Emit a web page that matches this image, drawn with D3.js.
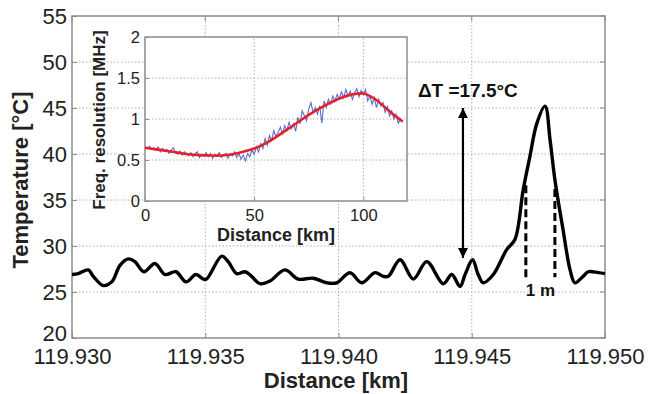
<!DOCTYPE html>
<html>
<head>
<meta charset="utf-8">
<title>Temperature vs distance</title>
<script src="https://d3js.org/d3.v7.min.js"></script>
<style>
  body { margin: 0; background: #fff; }
  svg { display: block; font-family: "Liberation Sans", Arial, sans-serif; }
  .tick text { fill: #222; }
  .grid line { stroke: #b0b0b0; stroke-width: 1; stroke-dasharray: 1.5,2; }
</style>
</head>
<body>
<svg id="chart" width="650" height="394"></svg>
<script>
// main trace
var mainDist = [119.93000, 119.93024, 119.93061, 119.93080, 119.93117, 119.93149, 119.93180, 119.93211,
  119.93236, 119.93270, 119.93311, 119.93349, 119.93390, 119.93428, 119.93465, 119.93493, 119.93505,
  119.93562, 119.93586, 119.93618, 119.93649, 119.93674, 119.93705, 119.93743, 119.93799, 119.93849,
  119.93905, 119.93956, 119.93993, 119.94043, 119.94087, 119.94137, 119.94168, 119.94187, 119.94231,
  119.94281, 119.94331, 119.94393, 119.94425, 119.94456, 119.94475, 119.94503, 119.94524, 119.94543,
  119.94581, 119.94631, 119.94662, 119.94693, 119.94718, 119.94744, 119.94775, 119.94794, 119.94812,
  119.94843, 119.94869, 119.94887, 119.94918, 119.94937, 119.94975, 119.95000];
var mainTemp = [26.9, 27.0, 27.4, 26.7, 25.7, 26.1, 27.9, 28.6,
  28.3, 27.2, 28.1, 26.9, 27.2, 26.1, 26.9, 26.4, 26.4,
  28.9, 28.3, 27.0, 27.2, 26.7, 25.9, 26.2, 27.4, 26.4,
  26.5, 26.0, 26.0, 27.1, 26.0, 27.1, 26.7, 26.7, 28.5,
  26.4, 28.3, 25.9, 26.9, 25.6, 26.9, 28.5, 26.9, 26.0,
  26.9, 29.6, 30.7, 36.1, 39.7, 43.3, 45.2, 41.5, 37.2,
  31.7, 27.4, 26.0, 26.7, 27.2, 27.1, 27.0];

var xTicks = [119.930, 119.935, 119.940, 119.945, 119.950];
var xTickLabels = ["119.930", "119.935", "119.940", "119.945", "119.950"];
var yTicks = [20, 25, 30, 35, 40, 45, 50, 55];

// annotations
var arrowX = 119.94467, arrowTop = 45.0, arrowBottom = 28.7;
var dashX = [119.94703, 119.94812];
var dashTop = [36.6, 36.2];
var dashBottom = 26.6;
var deltaLabel = "\u0394T =17.5\u00B0C";
var widthLabel = "1 m";

// inset: frequency resolution vs distance
var blueKm = d3.range(0, 119);
var blueVal = [0.66, 0.64, 0.67, 0.63, 0.65, 0.62, 0.66, 0.60, 0.64, 0.61,
  0.63, 0.58, 0.62, 0.65, 0.59, 0.57, 0.61, 0.56, 0.60, 0.58,
  0.55, 0.59, 0.54, 0.58, 0.60, 0.53, 0.57, 0.55, 0.59, 0.54,
  0.58, 0.52, 0.57, 0.55, 0.59, 0.53, 0.56, 0.58, 0.52, 0.57,
  0.55, 0.60, 0.53, 0.58, 0.51, 0.56, 0.49, 0.58, 0.54, 0.62,
  0.57, 0.66, 0.60, 0.70, 0.64, 0.76, 0.68, 0.80, 0.74, 0.86,
  0.78, 0.84, 0.90, 0.82, 0.92, 0.86, 0.96, 0.88, 0.94, 0.85,
  1.02, 0.94, 1.10, 1.04, 0.98, 1.12, 1.20, 1.08, 1.14, 1.06,
  1.16, 0.95, 1.22, 1.14, 1.24, 1.18, 1.28, 1.22, 1.30, 1.25,
  1.33, 1.26, 1.36, 1.28, 1.34, 1.24, 1.32, 1.37, 1.27, 1.35,
  1.30, 1.36, 1.22, 1.28, 1.18, 1.26, 1.14, 1.24, 1.16, 1.20,
  1.08, 1.15, 1.04, 1.10, 1.00, 1.06, 0.95, 1.00, 0.96];
var redKm = [0, 5, 10, 15, 20, 25, 30, 35, 40, 45, 50, 55, 60, 65, 70, 75, 80, 85, 90, 95, 100, 105, 110, 115, 118];
var redVal = [0.65, 0.63, 0.61, 0.59, 0.57, 0.56, 0.555, 0.555, 0.57, 0.60, 0.64, 0.70, 0.78, 0.87, 0.96,
  1.05, 1.13, 1.20, 1.26, 1.30, 1.31, 1.25, 1.14, 1.03, 0.97];
var insetXTicks = [0, 50, 100];
var insetYTicks = [0, 0.5, 1, 1.5, 2];

var svg = d3.select("#chart");
var x = d3.scaleLinear().domain([119.930, 119.950]).range([72, 605]);
var y = d3.scaleLinear().domain([20, 55]).range([338, 16]);

// grid
var grid = svg.append("g").attr("class", "grid");
grid.selectAll(".gy").data(yTicks.slice(1, -1)).enter().append("line")
  .attr("x1", x.range()[0]).attr("x2", x.range()[1])
  .attr("y1", y).attr("y2", y);
grid.selectAll(".gx").data(xTicks.slice(1, -1)).enter().append("line")
  .attr("x1", x).attr("x2", x)
  .attr("y1", y.range()[0]).attr("y2", y.range()[1]);

// axes box
svg.append("rect")
  .attr("x", 72).attr("y", 16).attr("width", 533).attr("height", 322)
  .attr("fill", "none").attr("stroke", "#8c8c8c").attr("stroke-width", 1.5);

var ax = svg.append("g").attr("transform", "translate(0,338)")
  .call(d3.axisBottom(x).tickValues(xTicks).tickFormat(function(d, i) { return xTickLabels[i]; })
    .tickSizeInner(-5).tickSizeOuter(0).tickPadding(10));
var ay = svg.append("g").attr("transform", "translate(72,0)")
  .call(d3.axisLeft(y).tickValues(yTicks).tickSizeInner(-5).tickSizeOuter(0).tickPadding(5));
[ax, ay].forEach(function(a) {
  a.select(".domain").remove();
  a.selectAll("line").attr("stroke", "#8c8c8c");
  a.selectAll("text").attr("font-size", 22).attr("font-family", "Liberation Sans, Arial, sans-serif");
});
// lowest y label sits just above the x labels
ay.selectAll(".tick text").filter(function(d) { return d === 20; }).attr("dy", "0.1em");
// top/right tick marks
svg.selectAll(".tt").data(xTicks).enter().append("line")
  .attr("x1", x).attr("x2", x).attr("y1", 16).attr("y2", 21).attr("stroke", "#8c8c8c");
svg.selectAll(".tr").data(yTicks).enter().append("line")
  .attr("x1", 600).attr("x2", 605).attr("y1", y).attr("y2", y).attr("stroke", "#8c8c8c");

svg.append("text").attr("x", 336).attr("y", 388).attr("text-anchor", "middle")
  .attr("font-size", 22).attr("font-weight", "bold").attr("fill", "#222").text("Distance [km]");
svg.append("text").attr("transform", "translate(28,180) rotate(-90)").attr("text-anchor", "middle")
  .attr("font-size", 22).attr("font-weight", "bold").attr("fill", "#222").text("Temperature [\u00B0C]");

// main trace
var line = d3.line().x(function(d) { return x(d[0]); }).y(function(d) { return y(d[1]); })
  .curve(d3.curveCatmullRom.alpha(0.5));
svg.append("path").datum(d3.zip(mainDist, mainTemp))
  .attr("d", line).attr("fill", "none").attr("stroke", "#000")
  .attr("stroke-width", 3.4).attr("stroke-linejoin", "round");

// dashed width markers
svg.selectAll(".dash").data(dashX).enter().append("line")
  .attr("x1", x).attr("x2", x)
  .attr("y1", function(d, i) { return y(dashTop[i]); }).attr("y2", y(dashBottom))
  .attr("stroke", "#000").attr("stroke-width", 3).attr("stroke-dasharray", "8,4");
svg.append("text").attr("x", x((dashX[0] + dashX[1]) / 2)).attr("y", y(24.6))
  .attr("text-anchor", "middle").attr("font-size", 17).attr("font-weight", "bold")
  .attr("fill", "#111").text(widthLabel);

// double arrow
var defs = svg.append("defs");
defs.append("marker").attr("id", "ah").attr("viewBox", "0 0 10 10")
  .attr("refX", 10).attr("refY", 5).attr("markerWidth", 4.5).attr("markerHeight", 7)
  .attr("markerUnits", "strokeWidth").attr("orient", "auto-start-reverse")
  .append("path").attr("d", "M0,0L10,5L0,10z").attr("fill", "#000");
svg.append("line")
  .attr("x1", x(arrowX)).attr("x2", x(arrowX))
  .attr("y1", y(arrowBottom)).attr("y2", y(arrowTop))
  .attr("stroke", "#000").attr("stroke-width", 2.2)
  .attr("marker-start", "url(#ah)").attr("marker-end", "url(#ah)");
svg.append("text").attr("x", x(119.94298)).attr("y", y(46.2))
  .attr("font-size", 19).attr("font-weight", "bold").attr("fill", "#111").text(deltaLabel);

// inset
var ix = d3.scaleLinear().domain([0, 120]).range([145, 407]);
var iy = d3.scaleLinear().domain([0, 2]).range([201, 37]);
var inset = svg.append("g");
inset.append("rect").attr("x", 145).attr("y", 37).attr("width", 262).attr("height", 164)
  .attr("fill", "#fff");
var igrid = inset.append("g").attr("class", "grid");
igrid.selectAll(".gy").data(insetYTicks.slice(1, -1)).enter().append("line")
  .attr("x1", ix.range()[0]).attr("x2", ix.range()[1]).attr("y1", iy).attr("y2", iy);
igrid.selectAll(".gx").data(insetXTicks.slice(1)).enter().append("line")
  .attr("x1", ix).attr("x2", ix).attr("y1", iy.range()[0]).attr("y2", iy.range()[1]);
inset.append("rect").attr("x", 145).attr("y", 37).attr("width", 262).attr("height", 164)
  .attr("fill", "none").attr("stroke", "#8c8c8c").attr("stroke-width", 1.5);

var iax = inset.append("g").attr("transform", "translate(0,201)")
  .call(d3.axisBottom(ix).tickValues(insetXTicks).tickSizeInner(-4).tickSizeOuter(0).tickPadding(8));
var iay = inset.append("g").attr("transform", "translate(145,0)")
  .call(d3.axisLeft(iy).tickValues(insetYTicks).tickFormat(d3.format("~g"))
    .tickSizeInner(-4).tickSizeOuter(0).tickPadding(5));
[iax, iay].forEach(function(a) {
  a.select(".domain").remove();
  a.selectAll("line").attr("stroke", "#8c8c8c");
  a.selectAll("text").attr("font-size", 16.5).attr("font-family", "Liberation Sans, Arial, sans-serif");
});

var iline = d3.line().x(function(d) { return ix(d[0]); }).y(function(d) { return iy(d[1]); });
inset.append("path").datum(d3.zip(blueKm, blueVal))
  .attr("d", iline).attr("fill", "none").attr("stroke", "#5a6ec8").attr("stroke-width", 1.1);
inset.append("path").datum(d3.zip(redKm, redVal))
  .attr("d", iline.curve(d3.curveCatmullRom)).attr("fill", "none")
  .attr("stroke", "#e8202a").attr("stroke-width", 2.6);

inset.append("text").attr("x", 276).attr("y", 241).attr("text-anchor", "middle")
  .attr("font-size", 18).attr("font-weight", "bold").attr("fill", "#222").text("Distance [km]");
inset.append("text").attr("transform", "translate(105,120) rotate(-90)").attr("text-anchor", "middle")
  .attr("font-size", 17).attr("font-weight", "bold").attr("fill", "#222").text("Freq. resolution [MHz]");
</script>
</body>
</html>
